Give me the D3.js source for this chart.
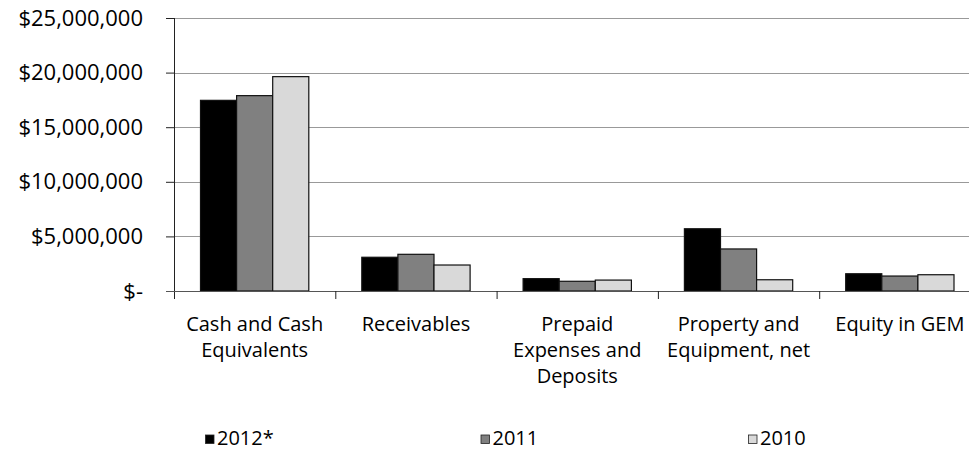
<!DOCTYPE html>
<html>
<head>
<meta charset="utf-8">
<script src="https://cdnjs.cloudflare.com/ajax/libs/d3/7.8.5/d3.min.js"></script>
<style>
  body { margin: 0; background: #fff; }
  svg { display: block; font-family: "Open Sans", "Noto Sans", sans-serif; }
</style>
</head>
<body>
<svg id="chart" width="969" height="449"></svg>
<script>
// data
const categories = [
  ["Cash and Cash", "Equivalents"],
  ["Receivables"],
  ["Prepaid", "Expenses and", "Deposits"],
  ["Property and", "Equipment, net"],
  ["Equity in GEM"]
]
const years = ["2012*", "2011", "2010"]
const values2012 = [17460000, 3090000, 1130000, 5700000, 1580000]
const values2011 = [17890000, 3360000, 890000, 3850000, 1370000]
const values2010 = [19630000, 2380000, 1000000, 1030000, 1490000]
const yTicks = [0, 5000000, 10000000, 15000000, 20000000, 25000000]

const colors = ["#000000", "#808080", "#d9d9d9"]
const series = [values2012, values2011, values2010]

var margin = {top: 18, left: 174},
  width = 806.5,
  height = 273;

var svg = d3.select("#chart")
var g = svg.append("g")
  .attr("transform", "translate(" + margin.left + "," + margin.top + ")")

var x = d3.scaleBand()
  .domain(d3.range(categories.length))
  .range([0, width])

var y = d3.scaleLinear()
  .domain([0, 25000000])
  .range([height, 0])

// gridlines
g.append("g")
  .selectAll("line")
  .data(yTicks.slice(1))
  .enter().append("line")
  .attr("x1", 0)
  .attr("x2", width)
  .attr("y1", d => Math.round(y(d)) + 0.5)
  .attr("y2", d => Math.round(y(d)) + 0.5)
  .attr("stroke", "#999")
  .attr("stroke-width", 1)

// bars
var pad = 26.5
var x1 = d3.scaleBand()
  .domain(d3.range(years.length))
  .range([pad, x.bandwidth() - pad])

g.append("g")
  .selectAll("g")
  .data(series)
  .enter().append("g")
  .attr("fill", (d, i) => colors[i])
  .selectAll("rect")
  .data((d, i) => d.map((v, j) => ({v: v, s: i, c: j})))
  .enter().append("rect")
  .attr("x", d => x(d.c) + x1(d.s))
  .attr("y", d => y(d.v))
  .attr("width", x1.bandwidth())
  .attr("height", d => height - y(d.v))
  .attr("stroke", "#111")
  .attr("stroke-width", 1.2)

// y axis
var yAxis = g.append("g")
  .attr("class", "yAxis")
  .call(d3.axisLeft(y)
    .tickValues(yTicks)
    .tickSize(8)
    .tickPadding(23)
    .tickFormat(d => d === 0 ? "$-" : "$" + d3.format(",")(d)))

yAxis.attr("font-family", null)
yAxis.selectAll("text")
  .attr("font-size", "22px")
  .attr("fill", "#000")
yAxis.selectAll("line").attr("stroke", "#222")
yAxis.select(".domain").attr("stroke", "#222").attr("d", "M0.5,0V" + (height + 8))

// x axis
var xAxis = g.append("g")
  .attr("transform", "translate(0," + height + ")")

xAxis.append("line")
  .attr("x1", -8)
  .attr("x2", width)
  .attr("y1", 0.5)
  .attr("y2", 0.5)
  .attr("stroke", "#555")

xAxis.selectAll(".sep")
  .data(d3.range(1, categories.length))
  .enter().append("line")
  .attr("x1", d => x(d) + 0.5)
  .attr("x2", d => x(d) + 0.5)
  .attr("y1", 0)
  .attr("y2", 8)
  .attr("stroke", "#222")

xAxis.selectAll(".cat")
  .data(categories)
  .enter().append("text")
  .attr("text-anchor", "middle")
  .attr("font-size", "20px")
  .attr("fill", "#000")
  .attr("transform", (d, i) => "translate(" + (x(i) + x.bandwidth() / 2) + ",0)")
  .selectAll("tspan")
  .data(d => d)
  .enter().append("tspan")
  .attr("x", 0)
  .attr("y", (d, i) => 40 + i * 26)
  .text(d => d)

// legend
var legendX = [205.5, 481, 748.5]
var legend = svg.append("g")
  .selectAll("g")
  .data(years)
  .enter().append("g")
  .attr("transform", (d, i) => "translate(" + legendX[i] + ",435)")

legend.append("rect")
  .attr("width", 8.5)
  .attr("height", 8.5)
  .attr("fill", (d, i) => colors[i])
  .attr("stroke", "#222")
  .attr("stroke-width", 0.8)

legend.append("text")
  .attr("x", 11.5)
  .attr("y", 9.5)
  .attr("font-size", "20px")
  .attr("fill", "#000")
  .text(d => d)
</script>
</body>
</html>
